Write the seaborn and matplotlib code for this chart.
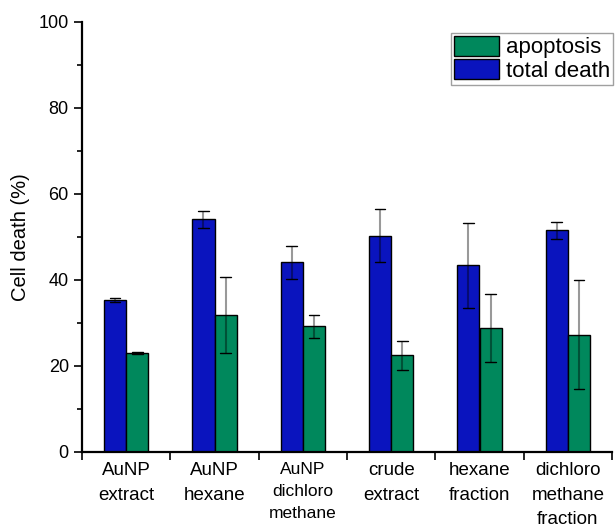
import numpy as np
import pandas as pd
import seaborn as sns
import matplotlib
matplotlib.use("Agg")
import matplotlib.pyplot as plt
from matplotlib.patches import Patch
from matplotlib.ticker import MultipleLocator, FixedLocator

categories = ["AuNP\nextract", "AuNP\nhexane", "AuNP\ndichloro\nmethane",
              "crude\nextract", "hexane\nfraction", "dichloro\nmethane\nfraction"]
total_death = [35.3, 54.1, 44.1, 50.3, 43.4, 51.6]
total_death_err = [0.4, 1.9, 3.8, 6.2, 9.8, 2.0]
apoptosis = [23.0, 31.9, 29.2, 22.5, 28.9, 27.3]
apoptosis_err = [0.3, 8.8, 2.6, 3.4, 7.9, 12.7]

series = ["total death", "apoptosis"]
colors = {"total death": "#0A14BE", "apoptosis": "#00885C"}

df = pd.DataFrame({
    "category": categories * 2,
    "series": ["total death"] * 6 + ["apoptosis"] * 6,
    "value": total_death + apoptosis,
    "err": total_death_err + apoptosis_err,
})

sns.set_style("ticks")
plt.rcParams['font.family'] = ['Liberation Sans', 'DejaVu Sans']
for k in ["text.color", "axes.labelcolor", "xtick.color", "ytick.color", "axes.edgecolor"]:
    plt.rcParams[k] = "black"

fig = plt.figure(figsize=(6.16, 5.29), dpi=100)
ax = fig.add_axes([82/616, 1-452/529, 530/616, 430/529])

sns.barplot(data=df, x="category", y="value", hue="series", hue_order=series,
            palette=colors, width=0.5, gap=0, edgecolor="black", linewidth=1.0,
            errorbar=None, legend=False, ax=ax, saturation=1)

# error bars from the bar patches
bars = [p for p in ax.patches if p.get_height() > 0]
for s_i, s in enumerate(series):
    sub = df[df.series == s]
    for c_i, (v, e) in enumerate(zip(sub.value, sub.err)):
        p = bars[s_i * 6 + c_i]
        xc = p.get_x() + p.get_width() / 2
        ax.errorbar(xc, v, yerr=e, fmt="none", ecolor=(0, 0, 0, 0.4),
                    elinewidth=1.5, capsize=0, zorder=5)
        for yy in (v - e, v + e):
            ax.plot([xc - 0.06, xc + 0.06], [yy, yy], color="black", lw=1.0, zorder=6)

ax.set_xlim(-0.5, 5.5)
ax.set_ylim(0, 100)
ax.yaxis.set_major_locator(MultipleLocator(20))
ax.yaxis.set_minor_locator(MultipleLocator(10))
ax.xaxis.set_major_locator(FixedLocator(np.arange(-0.5, 6.0, 1.0)))
ax.xaxis.set_minor_locator(FixedLocator(np.arange(0, 6)))
ax.set_xticklabels([])
ax.set_xticklabels(categories, minor=True)
ax.tick_params(axis="x", which="minor", length=0, labelsize=13.5, pad=7)
for i, t in enumerate(ax.get_xticklabels(minor=True)):
    t.set_linespacing(1.6)
    if i == 2:
        t.set_fontsize(12.5)
        t.set_linespacing(1.6)
ax.tick_params(axis="x", which="major", length=6, width=1.2, direction="out")
ax.tick_params(axis="y", which="major", length=6, width=1.2, direction="out", labelsize=13)
ax.tick_params(axis="y", which="minor", length=3.5, width=1.2, direction="out")

for sp in ["top", "right"]:
    ax.spines[sp].set_visible(False)
for sp in ["left", "bottom"]:
    ax.spines[sp].set_linewidth(1.6)

ax.set_xlabel("")
ax.set_ylabel("Cell death (%)", fontsize=14.5, labelpad=6)

handles = [Patch(facecolor=colors["apoptosis"], edgecolor="black", label="apoptosis"),
           Patch(facecolor=colors["total death"], edgecolor="black", label="total death")]
leg = fig.legend(handles=handles, loc="upper left",
                 bbox_to_anchor=(451/616, 1-33/529), fontsize=16,
                 frameon=True, fancybox=False, edgecolor="#888888",
                 handlelength=2.05, handleheight=1.0, handletextpad=0.3,
                 borderpad=0.12, labelspacing=0.05, borderaxespad=0)
leg.get_frame().set_linewidth(1.0)

fig.savefig("out.png", dpi=100)
